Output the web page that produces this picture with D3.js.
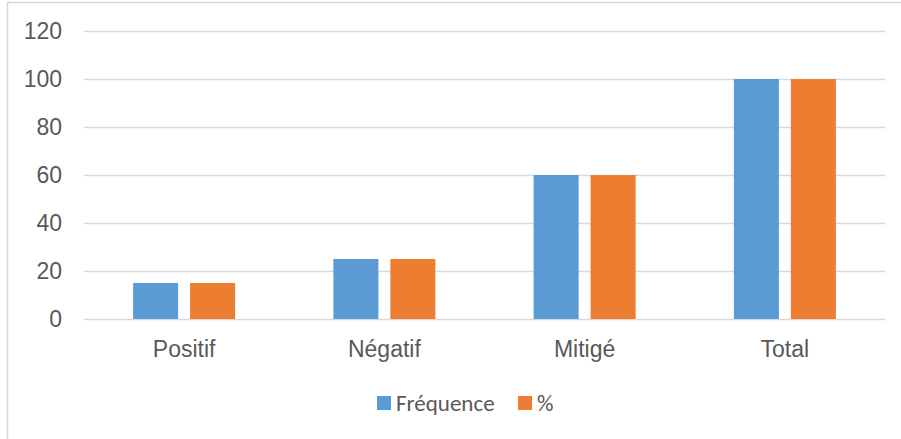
<!DOCTYPE html>
<html>
<head>
<meta charset="utf-8">
<script src="https://cdn.jsdelivr.net/npm/d3@7"></script>
<style>
  body { margin: 0; background: #fff; }
  svg { display: block; font-family: Carlito, "Open Sans", "Noto Sans", sans-serif; }
</style>
</head>
<body>
<svg width="901" height="439"></svg>
<script>
var categories = ["Positif", "Négatif", "Mitigé", "Total"]
var frequence = [15, 25, 60, 100]
var pourcent = [15, 25, 60, 100]
var seriesNames = ["Fréquence", "%"]
var colors = ["#5b9bd5", "#ed7d31"]
var yTicks = [0, 20, 40, 60, 80, 100, 120]

var svg = d3.select("svg")

// chart frame (extends past the right and bottom edge)
svg.append("rect")
   .attr("x", 7.5).attr("y", 2.5)
   .attr("width", 1000).attr("height", 1000)
   .attr("fill", "none")
   .attr("stroke", "#d9d9d9")
   .attr("stroke-width", 1.5)

var plotLeft = 84, plotRight = 885, plotTop = 31, plotBottom = 319

var x0 = d3.scaleBand().domain(categories).range([plotLeft, plotRight]).paddingInner(0).paddingOuter(0)
var x1 = d3.scaleBand().domain(seriesNames).range([0, 102]).paddingInner(0.21)
var y = d3.scaleLinear().domain([0, 120]).range([plotBottom, plotTop])

var g = svg.append("g")

// gridlines
g.append("g")
   .attr("transform", "translate(" + plotLeft + ",0)")
   .call(d3.axisLeft(y).tickValues(yTicks).tickSize(-(plotRight - plotLeft)).tickFormat(""))
   .call(function(s) {
      s.select(".domain").remove()
      s.selectAll("line").attr("stroke", "#d9d9d9").attr("stroke-width", 1.3)
   })

// y labels
g.append("g")
   .attr("transform", "translate(" + plotLeft + ",0)")
   .call(d3.axisLeft(y).tickValues(yTicks).tickSize(0).tickPadding(22))
   .call(function(s) {
      s.select(".domain").remove()
      s.selectAll("text").attr("fill", "#595959").attr("font-size", "23px")
         .attr("font-family", null)
   })

// x labels
g.append("g")
   .attr("transform", "translate(0," + plotBottom + ")")
   .call(d3.axisBottom(x0).tickSize(0).tickPadding(22))
   .call(function(s) {
      s.select(".domain").remove()
      s.selectAll("text").attr("fill", "#595959").attr("font-size", "23px")
         .attr("font-family", null)
   })

var rows = categories.map(function(c, i) {
   return { cat: c, vals: [frequence[i], pourcent[i]] }
})

var groups = g.selectAll(".grp")
   .data(rows)
   .enter().append("g")
   .attr("transform", function(d) {
      return "translate(" + (x0(d.cat) + (x0.bandwidth() - 102) / 2) + ",0)"
   })

groups.selectAll("rect")
   .data(function(d) { return d.vals.map(function(v, i) { return { name: seriesNames[i], v: v, i: i } }) })
   .enter().append("rect")
   .attr("x", function(d) { return x1(d.name) })
   .attr("y", function(d) { return y(d.v) })
   .attr("width", x1.bandwidth())
   .attr("height", function(d) { return plotBottom - y(d.v) })
   .attr("fill", function(d) { return colors[d.i] })

// legend
var legend = svg.append("g").attr("transform", "translate(377,403)")
var lx = [0, 141]
seriesNames.forEach(function(n, i) {
   legend.append("rect")
      .attr("x", lx[i]).attr("y", -7)
      .attr("width", 14).attr("height", 14)
      .attr("fill", colors[i])
   legend.append("text")
      .attr("x", lx[i] + 19).attr("y", 0)
      .attr("dy", "0.35em")
      .attr("fill", "#595959")
      .attr("font-size", "23px")
      .text(n)
})
</script>
</body>
</html>
